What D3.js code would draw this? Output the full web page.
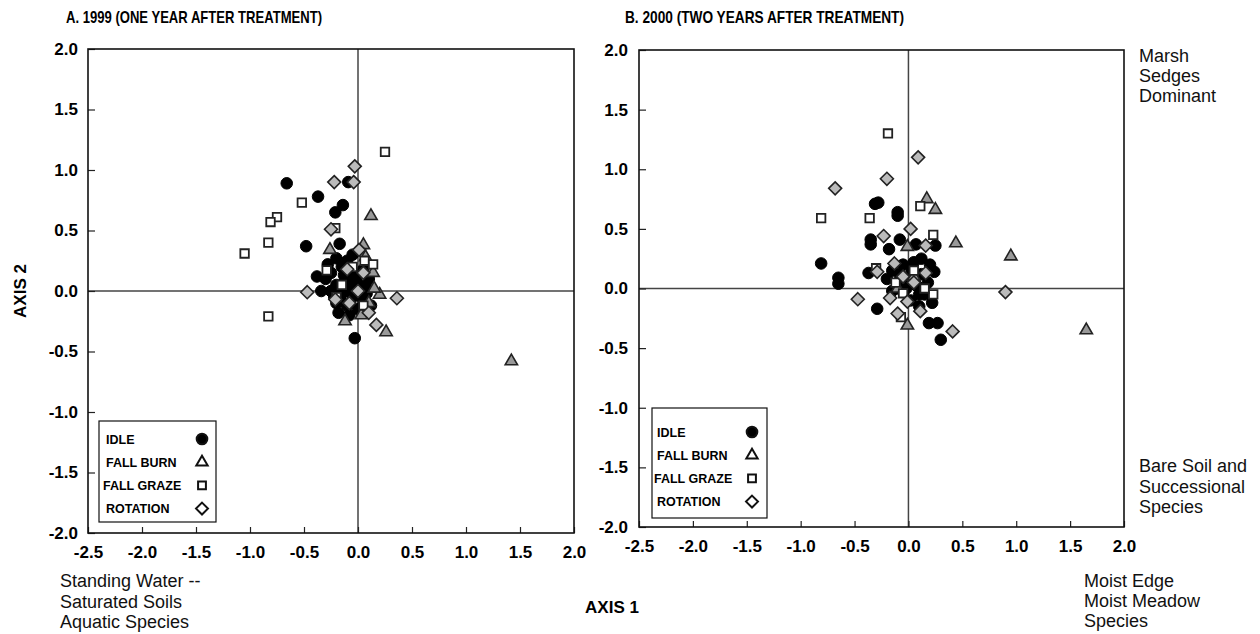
<!DOCTYPE html>
<html>
<head>
<meta charset="utf-8">
<script src="https://cdn.jsdelivr.net/npm/d3@7/dist/d3.min.js"></script>
<style>
  html, body { margin: 0; padding: 0; background: #fff; }
  svg { display: block; font-family: "Liberation Sans", Arial, Helvetica, sans-serif; }
  .tick text { font-weight: bold; font-size: 17px; fill: #000; }
</style>
</head>
<body>
<svg id="chart" width="1260" height="634"></svg>
<script>
// ---------------- DATA ----------------
const seriesNames = ["IDLE", "FALL BURN", "FALL GRAZE", "ROTATION"];
const xTickValues = [-2.5, -2.0, -1.5, -1.0, -0.5, 0.0, 0.5, 1.0, 1.5, 2.0];
const yTickValues = [-2.0, -1.5, -1.0, -0.5, 0.0, 0.5, 1.0, 1.5, 2.0];

// Panel A: 1999 (axis1, axis2)
const idle1999 = [
  [-0.66, 0.89], [-0.37, 0.78], [-0.09, 0.90], [-0.14, 0.71], [-0.21, 0.65], [-0.48, 0.37],
  [-0.17, 0.39], [-0.38, 0.12], [-0.34, 0.00], [-0.03, -0.39], [-0.20, 0.27], [-0.10, 0.25],
  [-0.15, 0.20], [-0.25, 0.15], [-0.05, 0.15], [-0.30, 0.10], [-0.20, 0.05], [-0.10, 0.02],
  [0.00, 0.05], [-0.15, -0.02], [-0.05, -0.05], [0.05, -0.08], [-0.20, -0.10], [-0.10, -0.12],
  [0.00, -0.15], [-0.08, -0.20], [0.10, 0.10], [0.08, -0.02], [-0.02, 0.10], [0.05, 0.18],
  [-0.12, 0.08], [-0.25, 0.00], [0.12, -0.12], [-0.05, 0.30], [-0.18, -0.18], [-0.28, 0.22],
  [-0.22, -0.05], [-0.13, 0.13], [0.02, -0.03], [-0.07, 0.05], [0.07, 0.05], [-0.16, -0.08]
];
const burn1999 = [
  [0.12, 0.62], [0.05, 0.38], [-0.26, 0.34], [0.14, 0.15], [0.20, -0.03], [0.03, -0.20],
  [-0.12, -0.25], [0.26, -0.34], [0.07, 0.28], [0.10, -0.10], [0.15, 0.02], [1.42, -0.58]
];
const graze1999 = [
  [0.25, 1.15], [-0.52, 0.73], [-0.75, 0.61], [-0.81, 0.57], [-0.83, 0.40], [-1.05, 0.31],
  [-0.83, -0.21], [-0.21, 0.52], [0.06, 0.25], [0.14, 0.22], [-0.29, 0.17], [-0.05, 0.20],
  [-0.15, 0.05], [0.05, -0.12], [-0.20, -0.05]
];
const rotation1999 = [
  [-0.03, 1.03], [-0.22, 0.90], [-0.04, 0.90], [-0.25, 0.51], [0.01, 0.34], [-0.47, -0.01],
  [0.36, -0.06], [-0.21, -0.07], [0.17, -0.28], [0.05, 0.15], [-0.10, 0.18], [0.00, 0.00],
  [-0.08, -0.10], [0.10, -0.18]
];

// Panel B: 2000 (axis1, axis2)
const idle2000 = [
  [-0.28, 0.72], [-0.31, 0.71], [-0.10, 0.64], [-0.10, 0.61], [-0.35, 0.41], [-0.35, 0.37],
  [-0.08, 0.41], [0.07, 0.37], [0.25, 0.36], [-0.18, 0.33], [-0.81, 0.21], [-0.65, 0.09],
  [-0.65, 0.04], [-0.37, 0.13], [0.24, 0.14], [-0.29, -0.17], [0.22, -0.12], [0.19, -0.29],
  [0.27, -0.29], [0.30, -0.43], [-0.15, 0.15], [-0.05, 0.20], [0.05, 0.22], [0.12, 0.12],
  [-0.10, 0.05], [0.00, 0.08], [0.08, 0.02], [-0.05, -0.03], [0.15, -0.05], [-0.15, -0.02],
  [0.02, -0.10], [0.10, -0.15], [-0.08, 0.12], [0.18, 0.05], [-0.20, 0.08], [0.03, 0.15],
  [0.12, 0.25], [-0.02, 0.00], [0.10, -0.05], [0.20, 0.20]
];
const burn2000 = [
  [0.17, 0.75], [0.25, 0.66], [-0.01, 0.35], [0.44, 0.38], [-0.01, -0.31], [0.95, 0.27],
  [1.65, -0.35], [0.05, 0.10], [-0.10, 0.00]
];
const graze2000 = [
  [-0.19, 1.30], [0.11, 0.69], [-0.81, 0.59], [-0.36, 0.59], [0.23, 0.45], [-0.05, -0.04],
  [0.23, -0.05], [-0.07, -0.24], [-0.30, 0.17], [0.05, 0.15], [-0.12, 0.05], [0.15, 0.00]
];
const rotation2000 = [
  [0.09, 1.10], [-0.20, 0.92], [-0.68, 0.84], [0.02, 0.50], [-0.23, 0.44], [0.16, 0.36],
  [-0.29, 0.14], [-0.13, 0.21], [0.16, 0.13], [-0.47, -0.09], [-0.17, -0.08], [-0.01, -0.11],
  [-0.10, -0.21], [0.11, -0.19], [0.41, -0.36], [0.90, -0.03], [0.05, 0.05], [-0.05, 0.10]
];

// ---------------- DRAWING ----------------
const svg = d3.select("#chart");
const fmt = d => d.toFixed(1);

// square diamond (rotated square) symbol
const symbolRhomb = {
  draw(ctx, size) {
    const h = Math.sqrt(size / 2);
    ctx.moveTo(0, -h); ctx.lineTo(h, 0); ctx.lineTo(0, h); ctx.lineTo(-h, 0); ctx.closePath();
  }
};

const styles = {
  "IDLE":       { shape: d3.symbolCircle,   size: 105, fill: "#000",  stroke: "#000", sw: 1 },
  "FALL BURN":  { shape: d3.symbolTriangle, size: 66,  fill: "#999",  stroke: "#222", sw: 1.6 },
  "FALL GRAZE": { shape: d3.symbolSquare,   size: 72,  fill: "#fff",  stroke: "#222", sw: 1.8 },
  "ROTATION":   { shape: symbolRhomb,       size: 84,  fill: "#bbb",  stroke: "#222", sw: 1.6 }
};

function drawPanel(cfg) {
  const x = d3.scaleLinear().domain([-2.5, 2.0]).range([cfg.x0, cfg.x1]);
  const y = d3.scaleLinear().domain([-2.0, 2.0]).range([cfg.y1, cfg.y0]);
  const g = svg.append("g");

  // title (condensed bold face, as in the original)
  g.append("text").attr("x", cfg.titleX).attr("y", 23)
    .attr("font-size", 17).attr("font-weight", "bold")
    .attr("textLength", cfg.titleLen).attr("lengthAdjust", "spacingAndGlyphs")
    .text(cfg.title);

  // zero lines
  g.append("line").attr("x1", x(0)).attr("x2", x(0)).attr("y1", y(2)).attr("y2", y(-2))
    .attr("stroke", "#444").attr("stroke-width", 1.5);
  g.append("line").attr("x1", x(-2.5)).attr("x2", x(2)).attr("y1", y(0)).attr("y2", y(0))
    .attr("stroke", "#444").attr("stroke-width", 1.5);

  // axes
  const xa = g.append("g").attr("transform", `translate(0,${cfg.y1})`)
    .call(d3.axisBottom(x).tickValues(xTickValues).tickFormat(fmt).tickSize(-6).tickPadding(13));
  const ya = g.append("g").attr("transform", `translate(${cfg.x0},0)`)
    .call(d3.axisLeft(y).tickValues(yTickValues).tickFormat(fmt).tickSize(-7).tickPadding(cfg.yPad));
  [xa, ya].forEach(a => {
    a.select(".domain").remove();
    a.selectAll(".tick line").attr("stroke", "#222").attr("stroke-width", 1.2);
  });

  // frame
  g.append("rect").attr("x", cfg.x0).attr("y", cfg.y0)
    .attr("width", cfg.x1 - cfg.x0).attr("height", cfg.y1 - cfg.y0)
    .attr("fill", "none").attr("stroke", "#111").attr("stroke-width", 1.6);

  // points
  cfg.series.forEach((data, i) => {
    const st = styles[seriesNames[i]];
    const sym = d3.symbol().type(st.shape).size(st.size);
    g.append("g").selectAll("path").data(data).join("path")
      .attr("d", sym)
      .attr("transform", d => `translate(${x(d[0])},${y(d[1])})`)
      .attr("fill", st.fill).attr("stroke", st.stroke).attr("stroke-width", st.sw);
  });

  // legend
  const L = cfg.legend;
  g.append("rect").attr("x", L.x).attr("y", L.y).attr("width", L.w).attr("height", L.h)
    .attr("fill", "#fff").attr("stroke", "#111").attr("stroke-width", 1.2);
  seriesNames.forEach((name, i) => {
    const yy = L.firstY + i * L.step;
    g.append("text").attr("x", L.textX[i]).attr("y", yy).attr("dy", "0.36em")
      .attr("font-size", 12.5).attr("font-weight", "bold").text(name);
    const st = styles[name];
    g.append("path").attr("d", d3.symbol().type(st.shape).size(st.size * 0.85))
      .attr("transform", `translate(${L.markX},${yy})`)
      .attr("fill", name === "IDLE" ? "#000" : "#fff").attr("stroke", "#111").attr("stroke-width", 2);
  });
}

drawPanel({
  title: "A.  1999 (ONE YEAR AFTER TREATMENT)", titleX: 66, titleLen: 256,
  x0: 88, x1: 574, y0: 49, y1: 533, yPad: 10,
  series: [idle1999, burn1999, graze1999, rotation1999],
  legend: { x: 99, y: 421, w: 117, h: 101, firstY: 439, step: 23.2, markX: 202, textX: [106, 106, 103, 106] }
});
drawPanel({
  title: "B.  2000 (TWO YEARS AFTER TREATMENT)", titleX: 625, titleLen: 279,
  x0: 639, x1: 1124, y0: 50, y1: 527, yPad: 11,
  series: [idle2000, burn2000, graze2000, rotation2000],
  legend: { x: 652, y: 408, w: 115, h: 110, firstY: 432, step: 23.2, markX: 752, textX: [657, 657, 654, 657] }
});

// axis titles
svg.append("text").attr("x", 612).attr("y", 613).attr("text-anchor", "middle")
  .attr("font-size", 17).attr("font-weight", "bold").text("AXIS 1");
svg.append("text").attr("transform", "translate(26,291) rotate(-90)").attr("text-anchor", "middle")
  .attr("font-size", 17).attr("font-weight", "bold").text("AXIS 2");

// annotations
function note(lines, x, y0, step) {
  lines.forEach((t, i) => svg.append("text").attr("x", x).attr("y", y0 + i * step)
    .attr("font-size", 18).attr("fill", "#111").text(t));
}
note(["Standing Water --", "Saturated Soils", "Aquatic Species"], 60, 587, 20.5);
note(["Moist Edge", "Moist Meadow", "Species"], 1084, 587, 20);
note(["Marsh", "Sedges", "Dominant"], 1139, 62, 20);
note(["Bare Soil and", "Successional", "Species"], 1139, 472, 20.5);
</script>
</body>
</html>
